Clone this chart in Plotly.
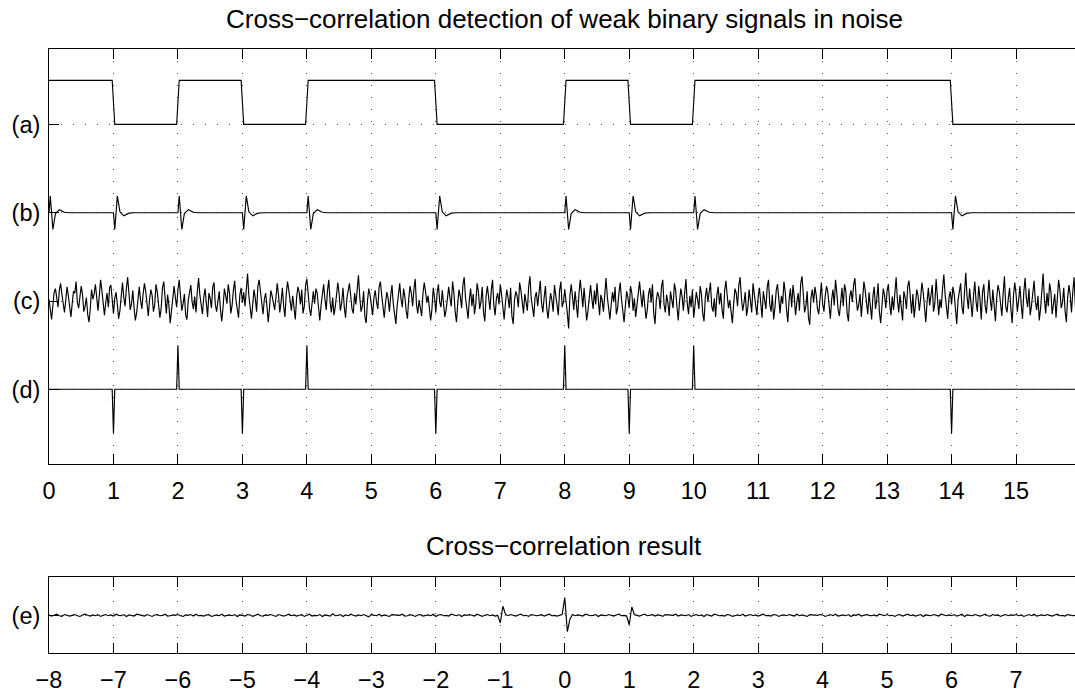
import plotly.graph_objects as go

# ---------------- data ----------------
bits = [1, 0, 1, 0, 1, 1, 0, 0, 1, 0, 1, 1, 1, 1, 0, 0]   # binary signal, one bit per unit
t_end = 16.0

# levels of the stacked traces
level_a, level_b, level_c, level_d = 4.0, 3.0, 2.0, 1.0
a_high = 0.5            # square wave height
d_spike = 0.5           # spike height in (d)
ramp = 0.02             # half width of edge transitions

# response of the filter (b) to a rising edge (offset, value)
kernel_off = [0.0, 0.02, 0.06, 0.10, 0.16, 0.24, 0.32]
kernel_val = [0.0, 0.19, -0.19, -0.01, 0.035, 0.005, 0.0]

# noisy received signal (c), hundredths, sampled every 0.02
c_step = 0.02
c_noise = [
    2, -9, -21, -5, 10, 14, 3, -7, 12, 20, 8, -4, -13, 1, 16, 6, -10, -18, -3, 11, 9, 22, -2, -8, 5,
    17, 7, -12, -6, 4, -15, -24, -9, 13, 2, 8, 19, -1, -11, 6, 24, 12, -5, -16, -2, 9, -7, 15, 18, -3,
    -14, 3, 10, -4, -20, -11, 7, 21, 4, -6, 14, 27, 9, -10, -3, 12, -8, -22, -13, 5, 16, 1, -9, 8, 20,
    11, -6, -17, 2, 13, 6, -12, -4, 19, 10, -2, -19, -8, 15, 22, 3, -14, 7, -5, -25, -10, 9, 17, 4, -7,
    13, 24, 6, -11, -3, 8, -16, -21, 1, 12, 18, -1, -9, 5, -13, 10, 26, 7, -6, -15, 4, 14, -2, -18, 9,
    3, -8, 16, 21, -4, -12, 2, 11, -10, -23, -7, 14, 6, -3, 19, 9, -14, -5, 12, 23, 1, -11, -19, 7, 15,
    -2, 10, -6, 12, 31, 6, -9, -20, -4, 13, 3, -12, 17, 24, 11, -7, -15, 2, 9, -5, -24, -8, 12, 6, -3,
    -10, 4, 20, 7, -13, -1, 15, -6, -18, 8, 22, 12, -3, -11, 6, -9, -21, 3, 16, 10, -4, 13, -14, -6, 18,
    25, 5, -8, -17, 1, 11, -3, 14, 9, -12, -22, -5, 7, 19, 2, -10, 12, 24, -1, -13, 4, -16, -7, 10, 21,
    8, -11, -2, 15, -7, -19, 3, 13, 20, 6, -9, -14, 9, -4, 17, 29, 5, -12, -6, 11, -18, -25, 0, 14, 7,
    -5, -16, 4, 12, -1, -9, 16, 22, 7, -8, -19, -2, 10, 3, -12, 6, 18, -3, -15, -26, -6, 11, 20, 2, -7,
    14, 5, -11, -20, 3, 17, 9, -6, 13, 25, -4, -14, 1, -8, -17, 8, 21, 11, -2, 6, -10, -22, -9, 15, 4,
    -13, 9, 19, -1, -7, 12, -5, -18, -10, 7, 16, 3, -6, 22, 10, -12, -24, -3, 13, 5, -8, 18, 27, 4, -11,
    -20, 2, 14, -6, 8, -15, -3, 20, 11, -9, -1, 16, -13, -23, 6, 17, 1, -10, 12, 24, -5, -16, 3, 9, -4,
    19, 7, -12, -21, -2, 13, 4, -8, 15, -17, -26, 1, 11, 6, -7, 21, 12, -4, -14, 8, -1, -11, 16, 28, 3,
    -9, -18, 5, 10, -6, 14, 23, -2, -13, 4, 17, -8, -20, -5, 9, 1, -12, 18, 7, -3, -16, 12, 22, -7, -1,
    13, -6, -14, -31, 6, 19, 2, -10, 11, -5, -19, 8, 24, 10, -7, 15, -2, -22, -11, 5, 18, 3, -9, 12, -4,
    20, -3, -16, 7, 1, -12, 14, 26, 5, -9, -21, -4, 10, -1, 16, -15, -8, 9, 21, 2, -13, -24, -6, 11, 4,
    -8, 17, 9, -11, 3, -18, -5, 13, 22, 6, -7, 12, -3, -20, -10, 8, 15, -2, 19, -14, -26, 1, 10, 5, -9,
    16, 24, -4, -13, 7, -2, -17, 11, 3, -8, 20, 12, -6, -22, -1, 14, 5, -11, 9, 25, -3, -15, 6, -7, 13,
    -19, -5, 10, 2, -9, 17, 8, -14, -23, 4, 15, -1, 11, 21, -6, -12, 3, -18, 7, 16, -4, 9, -10, -20, 12,
    23, 6, -8, 1, -15, -25, -3, 14, 9, -6, 18, 27, 4, -11, -2, 10, -17, -7, 13, 2, -13, 20, 8, -5, -16,
    5, 15, -2, -19, 11, 3, -9, 16, 24, -4, -12, 7, -21, -8, 12, 19, 1, -14, 6, -3, 22, 10, -10, -24, 2,
    14, -7, 18, 5, -16, -1, 9, -11, 20, 28, 3, -13, -6, 11, -19, -27, 4, 13, -2, 16, 7, -9, -15, 8, 21,
    -3, -12, 6, 17, 10, -8, -20, 2, 13, -5, 24, 9, -10, -17, 1, 15, -6, 19, 11, -14, -23, 5, 12, -1, 18,
    26, 4, -11, -4, 8, -18, 3, 22, 12, -7, -15, 10, -2, -21, 6, 16, -9, 2, 20, -12, -25, -5, 14, 7, -8,
    12, 19, -3, -16, 5, -10, 9, 27, 1, -13, 7, -6, -22, 11, 4, -9, 17, 23, -2, -14, 8, -19, -4, 13, 6,
    -11, 3, 21, 10, -7, -24, -1, 15, -5, 9, 18, -12, -3, 25, 6, -16, 2, -8, 14, 30, 7, -10, -20, 4, 11,
    -4, 16, 8, -13, -26, 1, 12, 20, -6, -15, 9, 32, 5, -9, 14, -3, -18, 6, 22, -1, -12, 17, 3, -21, 10,
    19, -5, -14, 7, 24, 2, -11, 13, -8, -23, 4, 18, 11, -2, -17, 9, 28, -6, -13, 3, 15, -9, -25, 6, 21,
    8, -12, 1, 17, -4, -20, 10, 26, 3, -7, 14, -16, -5, 12, 23, -1, -10, 6, -22, -9, 16, 31, 2, -14, 9,
    -6, 20, 11, -15, -3, 8, -19, 5, 24, 13, -8, -2, 15, -11, -24, 4, 18, 7, -13, 10, 27, -5, -17, 3, 12,
]

# cross-correlation result (e), hundredths, lag from -8 every 0.04
e_start, e_step = -8.0, 0.04
e_vals = [
    1, -2, 0, 3, -1, -3, 2, 1, -2, 0, 2, -1, -3, 1, 3, 0, -2, 1, -1, 2, -3, 0, 2, -1, 1,
    -2, 3, 0, -1, 2, -3, 1, 0, -2, 3, 1, -1, -2, 2, 0, -3, 1, 2, -1, 0, 3, -2, -1, 1, 0,
    2, -1, -3, 1, 0, 2, -2, 3, -1, 0, -2, 1, 2, -3, 0, 1, -1, 3, -2, 0, 1, -1, 2, -3, 1,
    0, -2, 2, 1, -3, 0, 3, -1, -2, 1, 0, 2, -1, -3, 2, 1, -2, 0, 3, -1, 1, -2, 0, 2, -3,
    1, 3, -2, 0, -1, 2, -3, 1, 0, -2, 4, -1, 0, 2, -3, 1, -1, 3, 0, -2, 1, -1, 2, 0, -4,
    2, 0, -1, 3, -2, 1, 0, -3, 2, 1, -1, 0, 3, -2, -1, 2, 0, -3, 1, 2, -2, 0, 1, -1, 3,
    -3, 1, 2, -1, 0, -2, 3, 0, -1, 2, -3, 1, 0, 2, -1, -2, 3, 1, -3, 0, 2, -1, 1, -2, 0,
    -20, 24, 3, -1, 2, 0, -2, 1, 3, -1, 0, -3, 2, 1, -1, 0, 2, -2, 1, 3, -1, 0, -2, 1, 2,
    47, -43, -10, 2, -1, 1, 0, -2, 3, 1, -1, 0, 2, -3, 1, 0, -1, 2, 0, -2, 1, 3, -1, 0, -2,
    -25, 22, 2, 0, -2, 1, 3, -1, 0, 2, -2, 1, 0, -3, 2, 1, -1, 0, 3, -2, 1, 0, -1, 2, -3,
    0, 2, -1, 1, -3, 2, 0, -2, 3, 1, -1, 0, -2, 2, 1, -3, 0, 1, -1, 3, -2, 0, 2, -1, 1,
    -2, 1, 3, -1, 0, -2, 2, 1, -3, 0, 1, -1, 2, 0, -2, 3, -1, 1, 0, -3, 2, 1, -1, 0, 2,
    1, -3, 0, 2, -1, 3, -2, 0, 1, -1, 2, -3, 1, 0, 3, -2, -1, 2, 0, -1, 1, -2, 3, 0, -1,
    2, -1, 0, -3, 1, 2, -2, 0, 3, -1, 1, -2, 0, 2, -3, 1, 0, -1, 2, 1, -2, 3, 0, -1, 1,
    -1, 2, -2, 0, 3, -3, 1, 0, -1, 2, 1, -2, 0, 3, -1, -2, 2, 0, 1, -3, 0, 2, -1, 1, 0,
    2, -1, 1, -3, 0, 2, -1, 3, -2, 0, 1, -1, 2, 0, -2, 1, 3, -1, 0, -2, 2, 1, -1, 0, 3,
]

top_xticks = list(range(0, 16))
bot_xticks = list(range(-8, 8))
top_ylabels = ["(a)", "(b)", "(c)", "(d)"]
bot_ylabels = ["(e)"]
title_top = "Cross\u2212correlation detection of weak binary signals in noise"
title_bot = "Cross\u2212correlation result"

# ---------------- build traces from the data ----------------
edges = []  # (time, sign)
prev = 0
for i, b in enumerate(bits):
    if b != prev:
        edges.append((float(i), 1 if b > prev else -1))
    prev = b

# (a) square wave
ax_, ay_ = [0.0], [level_a + a_high * bits[0]]
for (t, s) in edges:
    if t == 0:
        continue
    i = int(t)
    ax_ += [t - ramp, t + ramp]
    ay_ += [level_a + a_high * bits[i - 1], level_a + a_high * bits[i]]
ax_.append(t_end)
ay_.append(level_a + a_high * bits[-1])

# (b) filtered signal
bx_, by_ = [], []
for (t, s) in edges:
    for o, v in zip(kernel_off, kernel_val):
        bx_.append(t + o)
        by_.append(level_b + s * v)
bx_.append(t_end)
by_.append(level_b)

# (c) noisy signal
cx_ = [i * c_step for i in range(len(c_noise))]
cy_ = [level_c + v / 100.0 for v in c_noise]

# (d) spikes at the edges (t > 0)
dx_, dy_ = [0.0], [level_d]
for (t, s) in edges:
    if t == 0:
        continue
    dx_ += [t - ramp, t, t + ramp]
    dy_ += [level_d, level_d + s * d_spike, level_d]
dx_.append(t_end)
dy_.append(level_d)

# (e) cross-correlation
ex_ = [e_start + i * e_step for i in range(len(e_vals))]
ey_ = [v / 100.0 for v in e_vals]

line = dict(color="black", width=1.15)
fig = go.Figure()
for xs, ys in [(ax_, ay_), (bx_, by_), (cx_, cy_), (dx_, dy_)]:
    fig.add_trace(go.Scatter(x=xs, y=ys, mode="lines", line=line,
                             xaxis="x", yaxis="y", showlegend=False, hoverinfo="skip"))
fig.add_trace(go.Scatter(x=ex_, y=ey_, mode="lines", line=line,
                         xaxis="x2", yaxis="y2", showlegend=False, hoverinfo="skip"))

W, H = 1075, 693
L = 49
px_per_unit = 64.47
x_span = (W - L) / px_per_unit

font = dict(family="Liberation Sans, Arial, Helvetica, sans-serif", color="black")
tickfont = dict(font, size=23.5)
grid = dict(showgrid=True, gridcolor="#555555", gridwidth=1, griddash="1px,11px", zeroline=False)
common_x = dict(ticks="inside", ticklen=10, tickwidth=1, tickcolor="black",
                showline=True, linecolor="black", linewidth=1, mirror="ticks",
                tickfont=tickfont, ticklabelstandoff=6, **grid)
common_y = dict(ticks="inside", ticklen=10, tickwidth=1, tickcolor="black",
                showline=True, linecolor="black", linewidth=1, mirror=False,
                tickfont=tickfont, ticklabelstandoff=3, **grid)

def py(p):
    """page pixel row -> paper fraction"""
    return 1 - p / H

def px(p):
    """page pixel column -> paper fraction (plot area)"""
    return (p - L) / (W - L)

fig.update_layout(
    width=W, height=H,
    margin=dict(l=L, r=0, t=0, b=0),
    paper_bgcolor="white", plot_bgcolor="white",
    font=font,
    xaxis=dict(domain=[0, 1], range=[0, x_span], tickvals=top_xticks,
               ticktext=[str(v) for v in top_xticks], anchor="y", **common_x),
    yaxis=dict(domain=[py(466), py(49)], range=[0.154, 4.857],
               tickvals=[level_a, level_b, level_c, level_d], ticktext=top_ylabels,
               anchor="x", **common_y),
    xaxis2=dict(domain=[0, 1], range=[-8, -8 + x_span], tickvals=bot_xticks,
                ticktext=[("\u2212" + str(-v)) if v < 0 else str(v) for v in bot_xticks],
                anchor="y2", **common_x),
    yaxis2=dict(domain=[py(656), py(580)], range=[-1, 1], tickvals=[0],
                ticktext=bot_ylabels, anchor="x2", **common_y),
    annotations=[
        dict(text=title_top, xref="paper", yref="paper", x=px(564), y=py(19),
             xanchor="center", yanchor="middle", showarrow=False, font=dict(font, size=26)),
        dict(text=title_bot, xref="paper", yref="paper", x=px(564), y=py(548),
             xanchor="center", yanchor="middle", showarrow=False, font=dict(font, size=26)),
    ],
)

# remove the browser's default 8px body margin so the figure fills the window exactly;
# hide the interactive mode bar (a static chart)
fig.write_html("out.html", config={"displayModeBar": False},
               post_script="document.body.style.margin='0px';")
